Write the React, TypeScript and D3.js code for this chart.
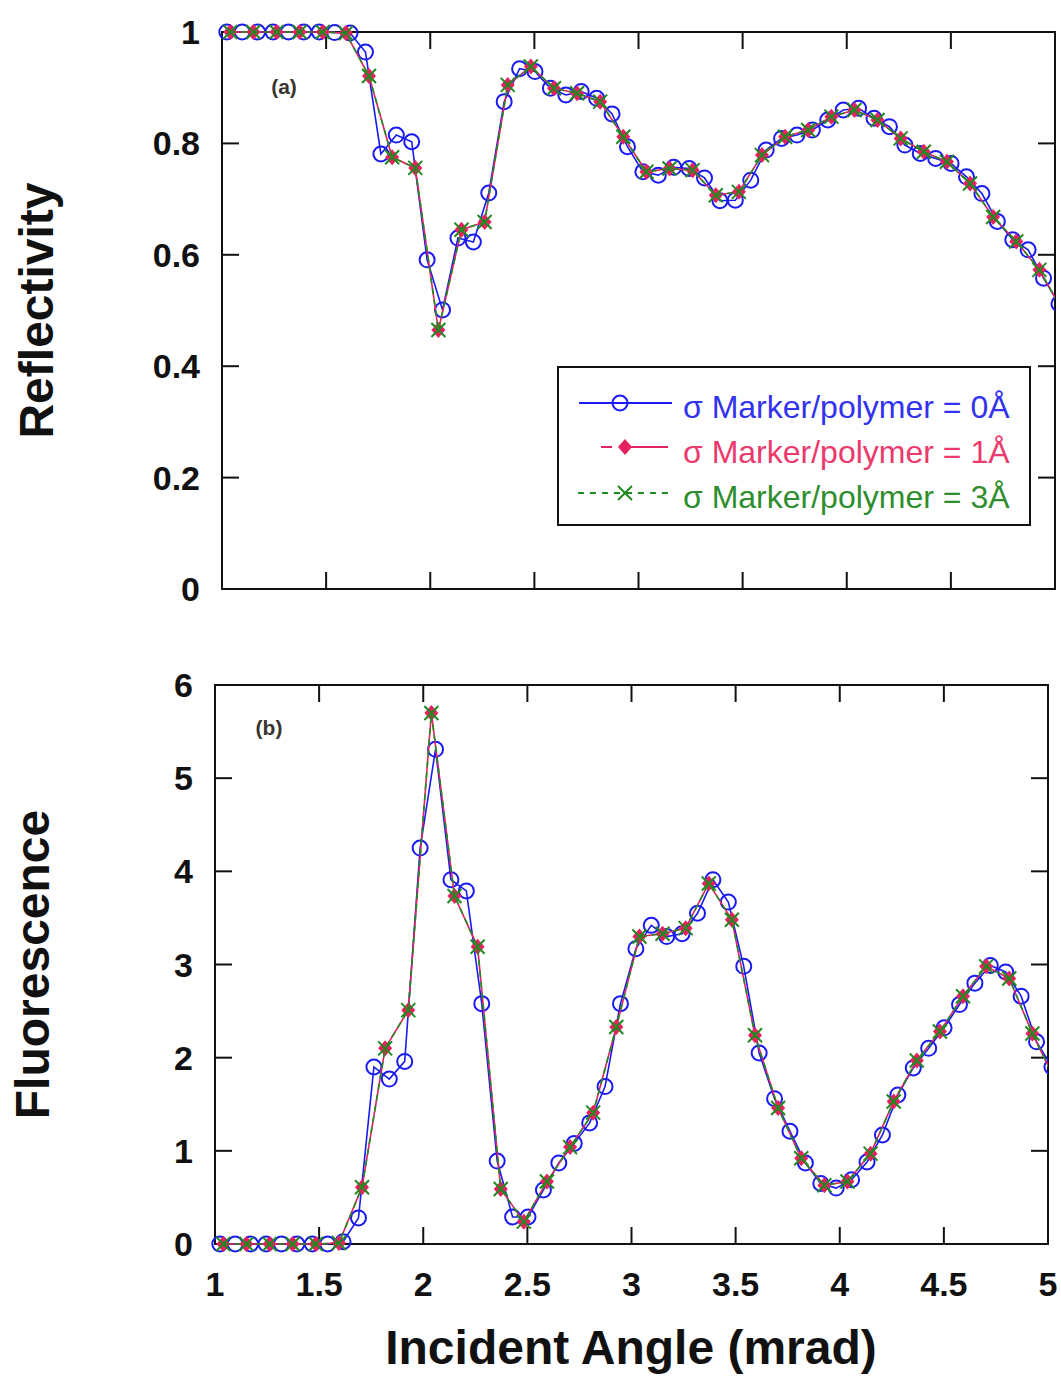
import React from "react";
import * as d3 from "d3";

// Axis ticks
const angleTicks = [1, 1.5, 2, 2.5, 3, 3.5, 4, 4.5, 5];
const reflectivityTicks = [0, 0.2, 0.4, 0.6, 0.8, 1];
const fluorescenceTicks = [0, 1, 2, 3, 4, 5, 6];

// Incident angles (mrad) of the σ = 0 Å curve samples
const anglesSigma0 = [
  1.023, 1.097, 1.171, 1.245, 1.319, 1.393, 1.467, 1.541, 1.615,
  1.689, 1.763, 1.837, 1.911, 1.985, 2.059, 2.133, 2.207, 2.281,
  2.355, 2.429, 2.503, 2.577, 2.651, 2.725, 2.799, 2.873, 2.947,
  3.021, 3.095, 3.169, 3.243, 3.317, 3.391, 3.465, 3.539, 3.613,
  3.687, 3.761, 3.835, 3.909, 3.983, 4.057, 4.131, 4.205, 4.279,
  4.353, 4.427, 4.501, 4.575, 4.649, 4.723, 4.797, 4.871, 4.945,
  5.019,
];
const reflectivitySigma0 = [
  1.0, 1.0, 1.0, 1.0, 1.0, 1.0, 1.0, 0.999, 0.998,
  0.964, 0.781, 0.815, 0.803, 0.591, 0.501, 0.63, 0.623, 0.711,
  0.875, 0.934, 0.929, 0.899, 0.887, 0.893, 0.881, 0.853, 0.794,
  0.749, 0.743, 0.757, 0.755, 0.738, 0.697, 0.698, 0.734, 0.788,
  0.809, 0.815, 0.824, 0.842, 0.86, 0.863, 0.845, 0.83, 0.797,
  0.782, 0.773, 0.764, 0.74, 0.71, 0.66, 0.627, 0.609, 0.558,
  0.512,
];
const fluorescenceSigma0 = [
  0, 0, 0, 0, 0, 0, 0, 0, 0.025,
  0.28, 1.9, 1.77, 1.96, 4.25, 5.31, 3.91, 3.79, 2.58,
  0.89, 0.29, 0.29, 0.58, 0.87, 1.08, 1.3, 1.69, 2.58,
  3.17, 3.42, 3.3, 3.33, 3.55, 3.91, 3.67, 2.98, 2.05,
  1.56, 1.21, 0.87, 0.65, 0.6, 0.69, 0.88, 1.17, 1.6,
  1.89, 2.1, 2.32, 2.57, 2.8, 2.99, 2.92, 2.66, 2.17,
  1.9,
];

// Incident angles (mrad) of the σ = 1 Å and σ = 3 Å curve samples
const anglesSigma13 = [
  1.04, 1.151, 1.262, 1.373, 1.484, 1.595,
  1.706, 1.817, 1.928, 2.039, 2.15, 2.261,
  2.372, 2.483, 2.594, 2.705, 2.816, 2.927,
  3.038, 3.149, 3.26, 3.371, 3.482, 3.593,
  3.704, 3.815, 3.926, 4.037, 4.148, 4.259,
  4.37, 4.481, 4.592, 4.703, 4.814, 4.925,
  5.036,
];
const reflectivitySigma1 = [
  1.0, 1.0, 1.0, 1.0, 1.0, 0.998,
  0.921, 0.775, 0.756, 0.465, 0.645, 0.659,
  0.905, 0.938, 0.899, 0.89, 0.875, 0.812,
  0.749, 0.755, 0.752, 0.707, 0.713, 0.779,
  0.812, 0.824, 0.848, 0.86, 0.842, 0.809,
  0.785, 0.767, 0.728, 0.668, 0.624, 0.573,
  0.5,
];
const reflectivitySigma3 = [
  1.0, 1.0, 1.0, 1.0, 1.0, 0.998,
  0.921, 0.775, 0.756, 0.465, 0.645, 0.659,
  0.905, 0.938, 0.899, 0.89, 0.875, 0.812,
  0.749, 0.755, 0.752, 0.707, 0.713, 0.779,
  0.812, 0.824, 0.848, 0.86, 0.842, 0.809,
  0.785, 0.767, 0.728, 0.668, 0.624, 0.573,
  0.5,
];
const fluorescenceSigma1 = [
  0, 0, 0, 0, 0, 0.01,
  0.61, 2.1, 2.51, 5.7, 3.735, 3.19,
  0.59, 0.24, 0.67, 1.04, 1.41, 2.33,
  3.3, 3.33, 3.39, 3.87, 3.48, 2.24,
  1.46, 0.92, 0.63, 0.67, 0.97, 1.53,
  1.97, 2.28, 2.66, 2.98, 2.85, 2.26,
  1.75,
];
const fluorescenceSigma3 = [
  0, 0, 0, 0, 0, 0.01,
  0.61, 2.1, 2.51, 5.7, 3.735, 3.19,
  0.59, 0.24, 0.67, 1.04, 1.41, 2.33,
  3.3, 3.33, 3.39, 3.87, 3.48, 2.24,
  1.46, 0.92, 0.63, 0.67, 0.97, 1.53,
  1.97, 2.28, 2.66, 2.98, 2.85, 2.26,
  1.75,
];

const legendLabels = [
  "σ Marker/polymer = 0Å",
  "σ Marker/polymer = 1Å",
  "σ Marker/polymer = 3Å",
];
const seriesColors = ["#1a1af5", "#e3235e", "#1f8a1f"];
const legendTextColors = ["#3232f0", "#ec3a6c", "#2e8e2e"];

const FONT = "'Liberation Sans', Arial, Helvetica, sans-serif";
const INK = "#111";

type Pt = [number, number];
const zip = (xs: number[], ys: number[]): Pt[] => xs.map((x, i) => [x, ys[i]]);

type MarkerKind = "circle" | "diamond" | "cross";

function Marker({ kind, cx, cy, color }: { kind: MarkerKind; cx: number; cy: number; color: string }) {
  if (kind === "circle") {
    return <circle cx={cx} cy={cy} r={7.5} fill="none" stroke={color} strokeWidth={2} />;
  }
  if (kind === "diamond") {
    return (
      <path
        d={`M${cx},${cy - 8}L${cx + 7},${cy}L${cx},${cy + 8}L${cx - 7},${cy}Z`}
        fill={color}
      />
    );
  }
  return (
    <path
      d={`M${cx - 7},${cy - 7}L${cx + 7},${cy + 7}M${cx - 7},${cy + 7}L${cx + 7},${cy - 7}`}
      stroke={color}
      strokeWidth={2}
      fill="none"
    />
  );
}

type Series = { pts: Pt[]; color: string; dash?: string; marker: MarkerKind };

type PanelProps = {
  id: string;
  frame: { left: number; right: number; top: number; bottom: number };
  yMax: number;
  yTicks: number[];
  series: Series[];
  tag: string;
  tagPos: [number, number];
  title: string;
  titleX: number;
  labelGap: number;
  showXLabels: boolean;
  legend?: boolean;
};

function Panel(p: PanelProps) {
  const { frame } = p;
  const x = d3.scaleLinear().domain([1, 5]).range([frame.left, frame.right]);
  const y = d3.scaleLinear().domain([0, p.yMax]).range([frame.bottom, frame.top]);
  const line = d3
    .line<Pt>()
    .x((d) => x(d[0]))
    .y((d) => y(d[1]));
  const TL = 17;
  const innerX = angleTicks.slice(1, -1);
  const innerY = p.yTicks.slice(1, -1);
  const midY = (frame.top + frame.bottom) / 2;
  const clipId = "clip-" + p.id;

  return (
    <g>
      <defs>
        <clipPath id={clipId}>
          {/* curves may spill over the left/top/bottom edges, but stop at the right edge */}
          <rect
            x={frame.left - 30}
            y={frame.top - 30}
            width={frame.right - frame.left + 30}
            height={frame.bottom - frame.top + 60}
          />
        </clipPath>
      </defs>
      {/* frame */}
      <rect
        x={frame.left}
        y={frame.top}
        width={frame.right - frame.left}
        height={frame.bottom - frame.top}
        fill="none"
        stroke={INK}
        strokeWidth={2}
      />
      {/* inward ticks */}
      {innerX.map((t) => (
        <g key={"x" + t}>
          <line x1={x(t)} x2={x(t)} y1={frame.bottom} y2={frame.bottom - TL} stroke={INK} strokeWidth={2} />
          <line x1={x(t)} x2={x(t)} y1={frame.top} y2={frame.top + TL} stroke={INK} strokeWidth={2} />
        </g>
      ))}
      {innerY.map((t) => (
        <g key={"y" + t}>
          <line x1={frame.left} x2={frame.left + TL} y1={y(t)} y2={y(t)} stroke={INK} strokeWidth={2} />
          <line x1={frame.right} x2={frame.right - TL} y1={y(t)} y2={y(t)} stroke={INK} strokeWidth={2} />
        </g>
      ))}
      {/* y tick labels */}
      {p.yTicks.map((t) => (
        <text
          key={"yl" + t}
          x={frame.left - p.labelGap}
          y={y(t) + 12}
          textAnchor="end"
          fontFamily={FONT}
          fontWeight="bold"
          fontSize={34}
          fill={INK}
        >
          {String(t)}
        </text>
      ))}
      {p.showXLabels &&
        angleTicks.map((t) => (
          <text
            key={"xl" + t}
            x={x(t)}
            y={frame.bottom + 52}
            textAnchor="middle"
            fontFamily={FONT}
            fontWeight="bold"
            fontSize={34}
            fill={INK}
          >
            {String(t)}
          </text>
        ))}
      {/* axis title */}
      <text
        transform={`translate(${p.titleX},${midY}) rotate(-90)`}
        textAnchor="middle"
        fontFamily={FONT}
        fontWeight="bold"
        fontSize={48}
        fill={INK}
      >
        {p.title}
      </text>
      {/* panel tag */}
      <text
        x={p.tagPos[0]}
        y={p.tagPos[1]}
        textAnchor="middle"
        fontFamily={FONT}
        fontWeight="bold"
        fontSize={21}
        fill="#3a342e"
      >
        {p.tag}
      </text>
      {/* curves and markers */}
      <g clipPath={`url(#${clipId})`}>
        {p.series.map((s, i) => (
          <g key={"s" + i}>
            <path
              d={line(s.pts) || ""}
              fill="none"
              stroke={s.color}
              strokeWidth={1.6}
              strokeDasharray={s.dash}
            />
            {s.pts.map((d, j) => (
              <Marker key={j} kind={s.marker} cx={x(d[0])} cy={y(d[1])} color={s.color} />
            ))}
          </g>
        ))}
      </g>
      {p.legend && <Legend />}
    </g>
  );
}

function Legend() {
  const bx = 558;
  const by = 367;
  const rows = [403, 447, 493];
  const baselines = [418, 463, 508];
  const kinds: MarkerKind[] = ["circle", "diamond", "cross"];
  return (
    <g>
      <rect x={bx} y={by} width={472} height={158} fill="#fff" stroke={INK} strokeWidth={2} />
      {/* σ = 0 Å */}
      <line x1={579} x2={672} y1={rows[0]} y2={rows[0]} stroke={seriesColors[0]} strokeWidth={2} />
      {/* σ = 1 Å */}
      <line x1={601} x2={612} y1={rows[1]} y2={rows[1]} stroke={seriesColors[1]} strokeWidth={2} />
      <line x1={620} x2={668} y1={rows[1]} y2={rows[1]} stroke={seriesColors[1]} strokeWidth={2} />
      {/* σ = 3 Å */}
      <line
        x1={578}
        x2={674}
        y1={rows[2]}
        y2={rows[2]}
        stroke={seriesColors[2]}
        strokeWidth={2}
        strokeDasharray="6 6"
      />
      {kinds.map((k, i) => (
        <g key={k}>
          <Marker kind={k} cx={i === 0 ? 620 : 625} cy={rows[i]} color={seriesColors[i]} />
          <text
            x={683}
            y={baselines[i]}
            fontFamily={FONT}
            fontSize={32}
            fill={legendTextColors[i]}
          >
            {legendLabels[i]}
          </text>
        </g>
      ))}
    </g>
  );
}

export default function App() {
  const reflSeries: Series[] = [
    { pts: zip(anglesSigma0, reflectivitySigma0), color: seriesColors[0], marker: "circle" },
    { pts: zip(anglesSigma13, reflectivitySigma1), color: seriesColors[1], marker: "diamond" },
    { pts: zip(anglesSigma13, reflectivitySigma3), color: seriesColors[2], marker: "cross", dash: "6 5" },
  ];
  const fluoSeries: Series[] = [
    { pts: zip(anglesSigma0, fluorescenceSigma0), color: seriesColors[0], marker: "circle" },
    { pts: zip(anglesSigma13, fluorescenceSigma1), color: seriesColors[1], marker: "diamond" },
    { pts: zip(anglesSigma13, fluorescenceSigma3), color: seriesColors[2], marker: "cross", dash: "6 5" },
  ];

  return (
    <svg
      width={1061}
      height={1376}
      viewBox="0 0 1061 1376"
      style={{ position: "absolute", left: 0, top: 0, background: "#fff" }}
    >
      <rect width={1061} height={1376} fill="#fff" />
      <Panel
        id="refl"
        frame={{ left: 222, right: 1055, top: 32, bottom: 589 }}
        yMax={1}
        yTicks={reflectivityTicks}
        series={reflSeries}
        tag="(a)"
        tagPos={[284, 94]}
        title="Reflectivity"
        titleX={53}
        labelGap={22}
        showXLabels={false}
        legend
      />
      <Panel
        id="fluo"
        frame={{ left: 215, right: 1048, top: 685, bottom: 1244 }}
        yMax={6}
        yTicks={fluorescenceTicks}
        series={fluoSeries}
        tag="(b)"
        tagPos={[269, 735]}
        title="Fluorescence"
        titleX={49}
        labelGap={22}
        showXLabels={true}
      />
      <text
        x={631}
        y={1364}
        textAnchor="middle"
        fontFamily={FONT}
        fontWeight="bold"
        fontSize={48}
        fill={INK}
      >
        Incident Angle (mrad)
      </text>
    </svg>
  );
}
